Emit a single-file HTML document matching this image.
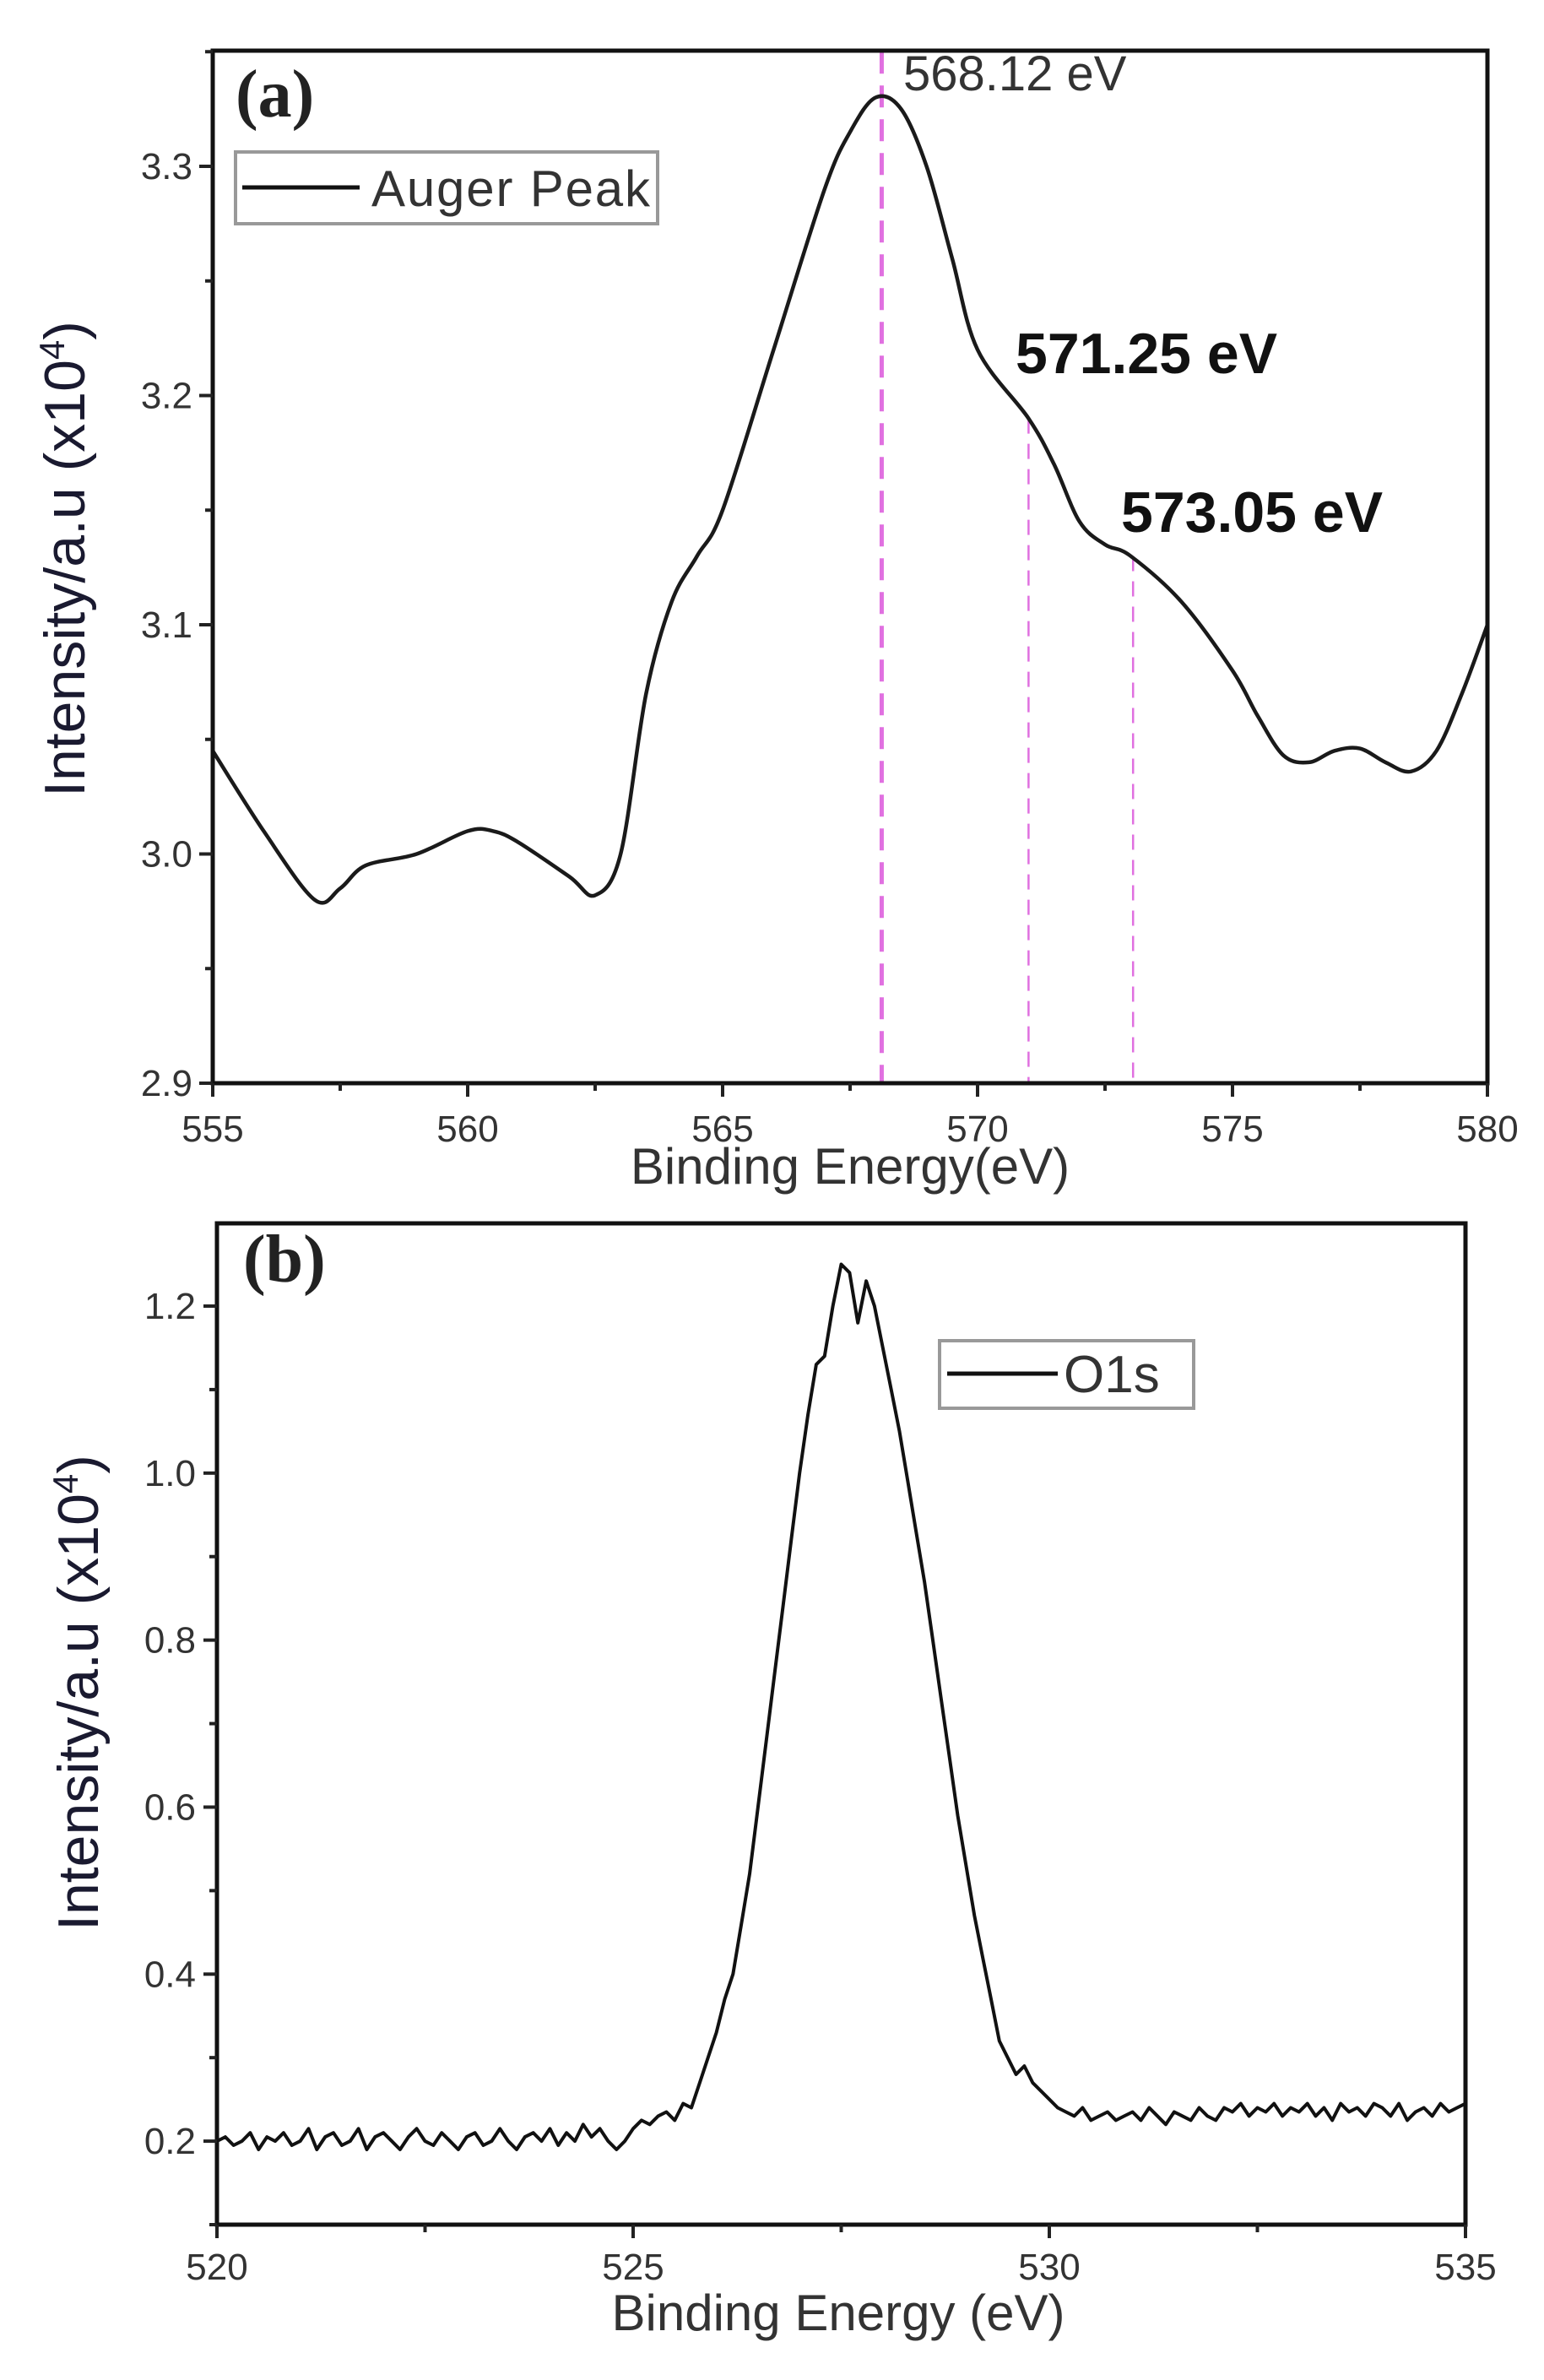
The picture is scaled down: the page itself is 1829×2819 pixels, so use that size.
<!DOCTYPE html>
<html><head><meta charset="utf-8"><style>
html,body{margin:0;padding:0;background:#fff;}
svg{display:block;font-family:"Liberation Sans",Arial,sans-serif;}
</style></head><body>
<svg id="fig" width="1829" height="2819" viewBox="0 0 1829 2819" xmlns="http://www.w3.org/2000/svg">
<rect x="0" y="0" width="1829" height="2819" fill="#fff"/>
<g id="pa"></g>
<g id="pb"></g>
</svg>
<script>
// Panel (a) data
const augerX = [555,556,557,557.5,558,559,560,560.5,561,562,562.5,563,563.5,564,564.5,565,566,567,567.5,568,568.5,569,569.5,570,571,571.5,572,572.5,573,574,575,575.5,576,576.5,577,577.5,578,578.5,579,579.5,580];
const augerY = [3.045,3.01,2.98,2.985,2.995,3.0,3.01,3.01,3.005,2.99,2.982,3.0,3.07,3.11,3.13,3.15,3.22,3.29,3.315,3.33,3.325,3.3,3.26,3.22,3.19,3.17,3.145,3.135,3.13,3.11,3.08,3.06,3.043,3.04,3.045,3.046,3.04,3.036,3.045,3.07,3.1];
const augerMarkers = [568.12,571.0,573.05];
const augerMarkerTop = [3.35,3.19,3.13];
const aXTicks = [555,560,565,570,575,580];
const aYTicks = [2.9,3.0,3.1,3.2,3.3];
// Panel (b) data
const o1sStart = 520;
const o1sStep = 0.1;
const o1sY = [.20,.205,.195,.20,.21,.19,.205,.20,.21,.195,
.20,.215,.19,.205,.21,.195,.20,.215,.19,.205,
.21,.20,.19,.205,.215,.20,.195,.21,.20,.19,
.205,.21,.195,.20,.215,.20,.19,.205,.21,.20,
.215,.195,.21,.20,.22,.205,.215,.20,.19,.20,
.215,.225,.22,.23,.235,.225,.245,.24,.27,.30,
.33,.37,.40,.46,.52,.60,.68,.76,.84,.92,
1.0,1.07,1.13,1.14,1.20,1.25,1.24,1.18,1.23,1.20,
1.15,1.10,1.05,0.99,0.93,0.87,0.80,0.73,0.66,0.59,
0.53,0.47,0.42,0.37,0.32,0.30,0.28,0.29,0.27,0.26,
.25,.24,.235,.23,.24,.225,.23,.235,.225,.23,
.235,.225,.24,.23,.22,.235,.23,.225,.24,.23,
.225,.24,.235,.245,.23,.24,.235,.245,.23,.24,
.235,.245,.23,.24,.225,.245,.235,.24,.23,.245,
.24,.23,.245,.225,.235,.24,.23,.245,.235,.24,.245];
const bXTicks = [520,525,530,535];
const bYTicks = [0.2,0.4,0.6,0.8,1.0,1.2];

const NS = "http://www.w3.org/2000/svg";
function mk(parent, tag, attrs, text){
  const e = document.createElementNS(NS, tag);
  for (const k in attrs) e.setAttribute(k, attrs[k]);
  if (text !== undefined) e.textContent = text;
  parent.appendChild(e);
  return e;
}
function lin(d0,d1,r0,r1){ return v => r0 + (v-d0)/(d1-d0)*(r1-r0); }
function smoothPath(pts){
  let d = "M" + pts[0][0].toFixed(1) + "," + pts[0][1].toFixed(1);
  for (let i=0;i<pts.length-1;i++){
    const p0 = pts[Math.max(0,i-1)], p1 = pts[i], p2 = pts[i+1], p3 = pts[Math.min(pts.length-1,i+2)];
    const c1x = p1[0]+(p2[0]-p0[0])/6, c1y = p1[1]+(p2[1]-p0[1])/6;
    const c2x = p2[0]-(p3[0]-p1[0])/6, c2y = p2[1]-(p3[1]-p1[1])/6;
    d += " C"+c1x.toFixed(1)+","+c1y.toFixed(1)+" "+c2x.toFixed(1)+","+c2y.toFixed(1)+" "+p2[0].toFixed(1)+","+p2[1].toFixed(1);
  }
  return d;
}

// ---------- Panel A ----------
const ga = document.getElementById('pa');
const aL=252,aR=1762,aT=60,aB=1283;
const ax = lin(555,580,aL,aR);
const ay = lin(2.9,3.3,aB,197);
augerMarkers.forEach((m,i)=>{
  const ln = mk(ga,'line',{x1:ax(m),x2:ax(m),y1:ay(augerMarkerTop[i]),y2:aB,stroke:'#e070e0','stroke-width':i===0?5:2.5,'stroke-dasharray':i===0?'26,14':'18,12'});
  
  
});
const aPts = augerX.map((v,i)=>[ax(v),ay(augerY[i])]);
const ap = mk(ga,'path',{d:smoothPath(aPts),fill:'none',stroke:'#1a1a1a','stroke-width':4.5,'stroke-linejoin':'round'});


const fa = mk(ga,'path',{d:`M${aL},${aT} H${aR} V${aB} H${aL} Z`,fill:'none',stroke:'#111','stroke-width':5});


for (let v=555; v<=580; v+=2.5){
  const major = (v%5===0);
  mk(ga,'line',{x1:ax(v),x2:ax(v),y1:aB,y2:aB+(major?16:9),stroke:'#222','stroke-width':4});
}
aXTicks.forEach(v=>{
  const t = mk(ga,'text',{x:ax(v),y:1352,'text-anchor':'middle','font-size':44,fill:'#333'},String(v));
  
  
});
for (let v=2.9; v<=3.351; v+=0.05){
  const major = Math.abs(Math.round(v*10)-v*10)<0.01;
  mk(ga,'line',{x1:aL,x2:aL-(major?16:9),y1:ay(v),y2:ay(v),stroke:'#222','stroke-width':4});
}
aYTicks.forEach(v=>{
  const t = mk(ga,'text',{x:228,y:ay(v)+15,'text-anchor':'end','font-size':44,fill:'#333'},v.toFixed(1));
  
  
});
let t;
t = mk(ga,'text',{x:1007,y:1402,'text-anchor':'middle','font-size':60,fill:'#333'},'Binding Energy(eV)');


t = mk(ga,'text',{x:0,y:0,'text-anchor':'middle','font-size':68,fill:'#1a1a30',transform:'translate(100,662) rotate(-90)'});


t.innerHTML = 'Intensity/a.u (x10<tspan dy="-24" font-size="42">4</tspan><tspan dy="24">)</tspan>';
t = mk(ga,'text',{x:279,y:138,'font-size':80,'font-weight':'bold','font-family':'Liberation Serif, serif',fill:'#222'},'(a)');


t = mk(ga,'text',{x:1070,y:107,'font-size':58,fill:'#333'},'568.12 eV');


t = mk(ga,'text',{x:1203,y:442,'font-size':68,'font-weight':'bold',fill:'#111'},'571.25 eV');


t = mk(ga,'text',{x:1328,y:630,'font-size':68,'font-weight':'bold',fill:'#111'},'573.05 eV');


const lga = mk(ga,'g',{});


mk(lga,'rect',{x:279,y:180,width:500,height:85,fill:'#fff',stroke:'#999','stroke-width':4});
mk(lga,'line',{x1:287,x2:426,y1:222,y2:222,stroke:'#111','stroke-width':5});
mk(lga,'text',{x:440,y:244,'font-size':60,fill:'#333',textLength:330},'Auger Peak');

// ---------- Panel B ----------
const gb = document.getElementById('pb');
const bL=257,bR=1736,bT=1449,bB=2635;
const bx = lin(520,535,bL,bR);
const by = lin(0.1,1.2,bB,1547);
let d="";
o1sY.forEach((v,i)=>{ d += (i?" L":"M")+bx(o1sStart+i*o1sStep).toFixed(1)+","+by(v).toFixed(1); });
const bp = mk(gb,'path',{d:d,fill:'none',stroke:'#111','stroke-width':4,'stroke-linejoin':'round'});


const fb = mk(gb,'path',{d:`M${bL},${bT} H${bR} V${bB} H${bL} Z`,fill:'none',stroke:'#111','stroke-width':5});


for (let v=520; v<=535; v+=2.5){
  const major = (v%5===0);
  mk(gb,'line',{x1:bx(v),x2:bx(v),y1:bB,y2:bB+(major?16:9),stroke:'#222','stroke-width':4});
}
bXTicks.forEach(v=>{
  const tt = mk(gb,'text',{x:bx(v),y:2700,'text-anchor':'middle','font-size':44,fill:'#333'},String(v));
  
  
});
for (let k=1; k<=12; k++){
  const v=k/10, major=(k%2===0);
  mk(gb,'line',{x1:bL,x2:bL-(major?16:9),y1:by(v),y2:by(v),stroke:'#222','stroke-width':4});
}
bYTicks.forEach(v=>{
  const tt = mk(gb,'text',{x:232,y:by(v)+15,'text-anchor':'end','font-size':44,fill:'#333'},v.toFixed(1));
  
  
});
t = mk(gb,'text',{x:993,y:2760,'text-anchor':'middle','font-size':60,fill:'#333'},'Binding Energy (eV)');


t = mk(gb,'text',{x:0,y:0,'text-anchor':'middle','font-size':68,fill:'#1a1a30',transform:'translate(116,2005) rotate(-90)'});


t.innerHTML = 'Intensity/a.u (x10<tspan dy="-24" font-size="42">4</tspan><tspan dy="24">)</tspan>';
t = mk(gb,'text',{x:288,y:1518,'font-size':80,'font-weight':'bold','font-family':'Liberation Serif, serif',fill:'#222'},'(b)');


const lgb = mk(gb,'g',{});


mk(lgb,'rect',{x:1113,y:1588,width:301,height:80,fill:'#fff',stroke:'#999','stroke-width':4});
mk(lgb,'line',{x1:1122,x2:1253,y1:1627,y2:1627,stroke:'#111','stroke-width':5});
mk(lgb,'text',{x:1260,y:1649,'font-size':62,fill:'#333'},'O1s');
</script>
</body></html>
